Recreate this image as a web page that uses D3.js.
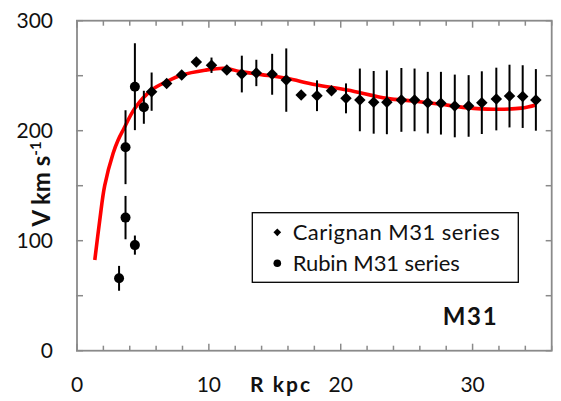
<!DOCTYPE html>
<html>
<head>
<meta charset="utf-8">
<script src="https://cdn.jsdelivr.net/npm/d3@7"></script>
<style>
  html, body { margin: 0; padding: 0; background: #fff; }
  svg { display: block; font-family: Lato, "Open Sans", sans-serif; }
</style>
</head>
<body>
<svg id="chart" width="561" height="401"></svg>
<script>
// ---- data ----
const carignanR = [5.66, 6.8, 7.94, 9.05, 10.2, 11.36, 12.5, 13.6, 14.8, 15.87, 17.0, 18.2, 19.3, 20.4, 21.45, 22.5, 23.5, 24.6, 25.6, 26.6, 27.6, 28.65, 29.7, 30.7, 31.8, 32.8, 33.8, 34.8];
const carignanV = [235.5, 243, 250.6, 262.5, 259.5, 255.2, 251.5, 252.5, 251.3, 246, 232.5, 231.8, 236.4, 229.4, 228, 225.8, 225.8, 228, 228, 225.5, 225, 222.5, 222.5, 225.5, 228.8, 231.5, 231, 228];
const carignanErr = [17.4, 3, 3, 3, 7, 3, 16.7, 12, 18.6, 28.8, 2, 14, 2, 13.6, 28.5, 28.5, 29, 29, 28.5, 28, 28.5, 28.5, 28, 28.5, 28.5, 28.5, 28.5, 28];

const rubinR = [3.19, 3.68, 3.68, 4.39, 4.39, 5.07];
const rubinV = [65.8, 121, 185, 96, 240, 221.3];
const rubinErr = [11.3, 19.7, 33.6, 8.7, 39.5, 15];

const modelR = [1.35, 1.73, 2.1, 2.74, 3.12, 3.5, 4.39, 5.66, 6.8, 7.94, 9.7, 11.2, 12.4, 14, 15.9, 18, 20.5, 23.5, 25.5, 27.6, 29.5, 31.6, 33.7, 34.8];
const modelV = [82.5, 119, 150, 179.5, 191.5, 200.6, 220.4, 237, 244.6, 250.6, 255, 256.7, 253.7, 251, 247.6, 242, 237, 229.4, 227, 224, 221, 219.5, 220.5, 223.4];

const xTickLabels = [0, 10, 20, 30];
const yTickLabels = [0, 100, 200, 300];
const legendLabels = ["Carignan M31 series", "Rubin M31 series"];
const titleLabel = "M31";

// ---- layout ----
const svg = d3.select("#chart");
const L = 77, R = 551.7, T = 20.7, B = 350.7;
const x = d3.scaleLinear().domain([0, 36]).range([L, R]);
const y = d3.scaleLinear().domain([0, 300]).range([B, T]);
const axisColor = "#8a8a8a";

// frame
svg.append("rect").attr("x", L).attr("y", T).attr("width", R - L).attr("height", B - T)
  .attr("fill", "none").attr("stroke", axisColor).attr("stroke-width", 1.8);

const xMinor = d3.range(0, 37, 2);
const yMinor = d3.range(0, 301, 50);
const tickG = svg.append("g").attr("stroke", axisColor).attr("stroke-width", 1.5);
xMinor.forEach(v => {
  const len = (v % 10 === 0) ? 7 : 5;
  tickG.append("line").attr("x1", x(v)).attr("x2", x(v)).attr("y1", B).attr("y2", B - len);
  tickG.append("line").attr("x1", x(v)).attr("x2", x(v)).attr("y1", T).attr("y2", T + len);
});
yMinor.forEach(v => {
  tickG.append("line").attr("x1", L - 1).attr("x2", L + 6).attr("y1", y(v)).attr("y2", y(v));
  tickG.append("line").attr("x1", R - 6).attr("x2", R).attr("y1", y(v)).attr("y2", y(v));
});

// tick labels
svg.append("g").selectAll("text").data(xTickLabels).join("text")
  .attr("x", d => x(d)).attr("y", 391.5).attr("text-anchor", "middle")
  .attr("font-size", 21).attr("fill", "#111").text(d => d);
svg.append("g").selectAll("text").data(yTickLabels).join("text")
  .attr("x", 53).attr("y", d => y(d) + 7.5).attr("text-anchor", "end")
  .attr("font-size", 21).attr("fill", "#111").text(d => d);

// axis titles
svg.append("text").attr("x", 250).attr("y", 391.5)
  .attr("font-size", 21).attr("font-weight", "bold").attr("fill", "#111")
  .attr("textLength", 60).text("R kpc");
const yt = svg.append("text").attr("transform", "translate(50,184) rotate(-90)")
  .attr("text-anchor", "middle").attr("font-size", 24).attr("font-weight", "bold").attr("fill", "#111");
yt.append("tspan").text("V km s");
yt.append("tspan").attr("dy", -9).attr("font-size", 15).text("-1");

// model curve
const curveData = modelR.map((r, i) => [r, modelV[i]]);
svg.append("path").datum(curveData)
  .attr("d", d3.line().x(d => x(d[0])).y(d => y(d[1])).curve(d3.curveCatmullRom.alpha(0.5)))
  .attr("fill", "none").attr("stroke", "#ff0000").attr("stroke-width", 3.6);

// error bars
const carData = carignanR.map((r, i) => ({ r, v: carignanV[i], e: carignanErr[i] }));
const rubData = rubinR.map((r, i) => ({ r, v: rubinV[i], e: rubinErr[i] }));
svg.append("g").selectAll("line").data(carData.concat(rubData)).join("line")
  .attr("x1", d => x(d.r)).attr("x2", d => x(d.r))
  .attr("y1", d => y(d.v - d.e)).attr("y2", d => y(d.v + d.e))
  .attr("stroke", "#000").attr("stroke-width", 2);

// markers
const diamond = d3.symbol().type(d3.symbolDiamond2).size(84);
svg.append("g").selectAll("path").data(carData).join("path")
  .attr("transform", d => `translate(${x(d.r)},${y(d.v)})`)
  .attr("d", diamond).attr("fill", "#000");
svg.append("g").selectAll("circle").data(rubData).join("circle")
  .attr("cx", d => x(d.r)).attr("cy", d => y(d.v)).attr("r", 5).attr("fill", "#000");

// legend
const lg = svg.append("g");
lg.append("rect").attr("x", 252.3).attr("y", 212.7).attr("width", 266).attr("height", 69.6)
  .attr("fill", "#fff").attr("stroke", "#000").attr("stroke-width", 1.3);
lg.append("path").attr("transform", "translate(277.3,232.3)")
  .attr("d", d3.symbol().type(d3.symbolDiamond2).size(38)).attr("fill", "#000");
lg.append("circle").attr("cx", 277.3).attr("cy", 263.3).attr("r", 3.8).attr("fill", "#000");
lg.selectAll("text").data(legendLabels).join("text")
  .attr("x", 292.7).attr("y", (d, i) => 240 + i * 31)
  .attr("font-size", 22).attr("fill", "#111")
  .attr("textLength", (d, i) => i === 0 ? 207 : 167)
  .text(d => d);

// title
svg.append("text").attr("x", 442.7).attr("y", 325).attr("font-size", 24)
  .attr("font-weight", "bold").attr("fill", "#111").attr("textLength", 54).text(titleLabel);
</script>
</body>
</html>
